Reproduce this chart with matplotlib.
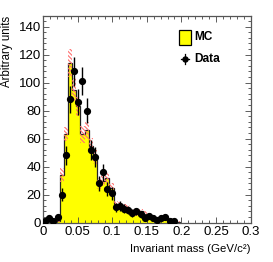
import numpy as np
import matplotlib
matplotlib.use("Agg")
import matplotlib.pyplot as plt
from matplotlib.patches import Rectangle
from matplotlib.lines import Line2D
from matplotlib.ticker import MultipleLocator, FixedLocator

plt.rcParams['font.family'] = ['Liberation Sans', 'DejaVu Sans']
plt.rcParams['hatch.linewidth'] = 0.8

# ---- data ----
bin_width = 0.006
mc_values = [0.3, 0.5, 0.3, 1, 34, 63, 114, 95, 83, 63, 66, 55, 47, 28, 30, 32, 25, 13,
             12, 11, 10, 8, 7, 8, 6, 5, 4, 2, 4, 4, 2, 1.5, 0.5]
mc_errors = [0.3, 0.3, 0.3, 0.5, 5, 5, 10, 8, 7, 6, 6, 5.5, 5, 4, 4, 4, 3.5, 2.5,
             2.5, 2.5, 2.5, 2, 2, 2, 2, 1.5, 1.5, 1, 1.5, 1.5, 1, 0.8, 0.4]
data_values = [1, 3, 1, 4, 20, 48, 88, 108, 86, 101, 80, 52, 47, 28, 36, 24, 21, 11,
               12, 10, 9, 7, 8, 6, 3, 5, 3, 2, 3, 4, 1, 1, 0]
data_errors = [1, 1.7, 1, 2, 4.5, 7, 9.4, 10.4, 9.3, 10, 9, 7.2, 6.9, 5.3, 6, 4.9, 4.6, 3.3,
               3.5, 3.2, 3, 2.6, 2.8, 2.4, 1.7, 2.2, 1.7, 1.4, 1.7, 2, 1, 1, 0]
x_ticks = [0, 0.05, 0.1, 0.15, 0.2, 0.25, 0.3]
x_tick_labels = ["0", "0.05", "0.1", "0.15", "0.2", "0.25", "0.3"]
y_ticks = [0, 20, 40, 60, 80, 100, 120, 140]
legend_labels = ["MC", "Data"]

nb = len(mc_values)
edges = np.arange(nb + 1) * bin_width
centers = edges[:-1] + bin_width / 2
mc = np.array(mc_values)
mce = np.array(mc_errors)
dv = np.array(data_values)
de = np.array(data_errors)

fig = plt.figure(figsize=(2.73, 2.62), dpi=100)
ax = fig.add_axes([0.1575, 0.150, 0.7605, 0.789])

ax.stairs(mc, edges, fill=True, color='#ffff00', zorder=1, linewidth=0)
ax.stairs(mc, edges, baseline=0, color='#222222', linewidth=0.9, zorder=2)
ax.bar(centers, 2 * mce, bottom=mc - mce, width=bin_width, fill=False,
       hatch='\\' * 8, edgecolor='#ff7070', linewidth=0, zorder=3)

mask = dv > 0
ax.errorbar(centers[mask], dv[mask], yerr=de[mask], fmt='o', color='black',
            markersize=4.2, elinewidth=1.0, capsize=0, zorder=4)

ax.set_xlim(0, 0.3)
ax.set_ylim(0, 147.6)
ax.xaxis.set_major_locator(FixedLocator(x_ticks))
ax.set_xticklabels(x_tick_labels)
ax.xaxis.set_minor_locator(MultipleLocator(0.01))
ax.yaxis.set_major_locator(FixedLocator(y_ticks))
ax.yaxis.set_minor_locator(MultipleLocator(4))

ax.tick_params(which='both', direction='in', top=True, right=True,
               labelsize=9.5, width=0.6, colors='#444444', labelcolor='black')
ax.tick_params(axis='x', which='major', length=4.5, pad=2.5)
ax.tick_params(axis='x', which='minor', length=2.2)
ax.tick_params(axis='y', which='major', length=4.5, pad=1.2)
ax.tick_params(axis='y', which='minor', length=2.2)
for s in ax.spines.values():
    s.set_linewidth(0.9)
    s.set_color('#555555')

ax.set_xlabel("Invariant mass (GeV/c²)", fontsize=8.2, ha='right', va='center')
ax.xaxis.set_label_coords(1.0, -0.125)
ax.set_ylabel("Arbitrary units", fontsize=8.3, ha='right', va='center')
ax.yaxis.set_label_coords(-0.172, 1.0)

# legend
ax.add_patch(Rectangle((0.656, 0.860), 0.0565, 0.072, transform=ax.transAxes,
                       facecolor='#ffff00', edgecolor='black', linewidth=0.9,
                       zorder=5, clip_on=False))
ax.text(0.728, 0.896, legend_labels[0], transform=ax.transAxes, fontsize=8.6,
        fontweight='bold', va='center', ha='left')
ax.add_line(Line2D([0.664, 0.704], [0.794, 0.794], transform=ax.transAxes,
                   color='black', linewidth=0.9))
ax.add_line(Line2D([0.684, 0.684], [0.770, 0.818], transform=ax.transAxes,
                   color='black', linewidth=0.9))
ax.add_line(Line2D([0.684], [0.794], transform=ax.transAxes, marker='o',
                   markersize=3.6, color='black'))
ax.text(0.728, 0.794, legend_labels[1], transform=ax.transAxes, fontsize=8.6,
        fontweight='bold', va='center', ha='left')

fig.savefig("out.png", dpi=100)
